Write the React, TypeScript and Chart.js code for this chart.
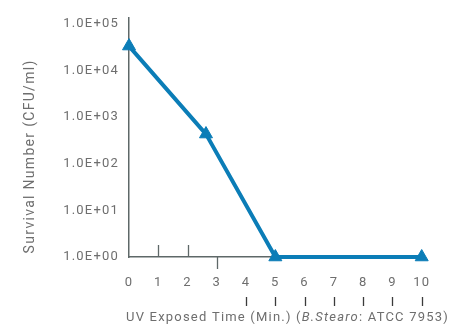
import React, { useEffect, useRef } from "react";
import { Chart, registerables } from "chart.js";

Chart.register(...registerables);

// ---- data ----
const exposedMinutes: number[] = [0, 2.63, 5, 10];
const survivalCounts: number[] = [33000, 430, 1, 1];
const yTickValues: number[] = [1, 10, 100, 1000, 10000, 100000];
const xTickValues: number[] = [0, 1, 2, 3, 4, 5, 6, 7, 8, 9, 10];
const innerUpTicks: number[] = [1, 2];
const innerDownTicks: number[] = [3];
const lowerTicks: number[] = [4, 5, 6, 7, 8, 9, 10];
const yTitle = "Survival Number (CFU/ml)";
const xTitleParts: { text: string; italic: boolean }[] = [
  { text: "UV Exposed Time (Min.) (", italic: false },
  { text: "B.Stearo", italic: true },
  { text: ": ATCC 7953)", italic: false },
];

const BLUE = "#0b7db7";
const AXIS = "#5e6868";
const TEXT = "#6e6e6e";
const FONT = "Roboto";
const SPACING = "1.2px";

function fmtExp(v: number): string {
  const e = Math.round(Math.log10(v));
  const s = e < 0 ? "-" : "+";
  const a = Math.abs(e);
  return "1.0E" + s + (a < 10 ? "0" + a : String(a));
}

const extrasPlugin = {
  id: "extras",
  beforeDraw(chart: any) {
    (chart.ctx as any).letterSpacing = SPACING;
  },
  afterDatasetsDraw(chart: any) {
    const ctx = chart.ctx as CanvasRenderingContext2D;
    const xs = chart.scales.x;
    const area = chart.chartArea;
    const base = area.bottom;
    ctx.save();
    ctx.lineWidth = 1.3;
    ctx.strokeStyle = AXIS;
    innerUpTicks.forEach((v) => {
      const x = Math.round(xs.getPixelForValue(v)) + 0.5;
      ctx.beginPath();
      ctx.moveTo(x, base - 12);
      ctx.lineTo(x, base);
      ctx.stroke();
    });
    innerDownTicks.forEach((v) => {
      const x = Math.round(xs.getPixelForValue(v)) + 0.5;
      ctx.beginPath();
      ctx.moveTo(x, base);
      ctx.lineTo(x, base + 12);
      ctx.stroke();
    });
    ctx.strokeStyle = "#3a3a3a";
    lowerTicks.forEach((v) => {
      const x = Math.round(xs.getPixelForValue(v)) + 0.5;
      ctx.beginPath();
      ctx.moveTo(x, base + 40);
      ctx.lineTo(x, base + 49);
      ctx.stroke();
    });

    // y title
    ctx.fillStyle = TEXT;
    (ctx as any).letterSpacing = "1.3px";
    ctx.font = `14px ${FONT}`;
    ctx.textAlign = "center";
    ctx.textBaseline = "middle";
    ctx.save();
    ctx.translate(30, (area.top + area.bottom) / 2 + 19);
    ctx.rotate(-Math.PI / 2);
    ctx.fillText(yTitle, 0, 0);
    ctx.restore();

    // x title
    (ctx as any).letterSpacing = SPACING;
    const fonts = xTitleParts.map((p) => (p.italic ? `italic 13px ${FONT}` : `13px ${FONT}`));
    let total = 0;
    const widths = xTitleParts.map((p, i) => {
      ctx.font = fonts[i];
      const w = ctx.measureText(p.text).width;
      total += w;
      return w;
    });
    let x = 287.5 - total / 2;
    ctx.textAlign = "left";
    xTitleParts.forEach((p, i) => {
      ctx.font = fonts[i];
      ctx.fillText(p.text, x, 318);
      x += widths[i];
    });
    ctx.restore();
  },
};

export default function App() {
  const ref = useRef<HTMLCanvasElement | null>(null);
  useEffect(() => {
    if (!ref.current) return;
    const chart = new Chart(ref.current, {
      type: "line",
      data: {
        datasets: [
          {
            data: exposedMinutes.map((m, i) => ({ x: m, y: survivalCounts[i] })),
            borderColor: BLUE,
            backgroundColor: BLUE,
            borderWidth: 4,
            pointStyle: "triangle",
            pointRadius: 7.5,
            pointBorderWidth: 1,
            pointBackgroundColor: BLUE,
            pointBorderColor: BLUE,
            clip: false as any,
            tension: 0,
          },
        ],
      },
      options: {
        responsive: false,
        animation: false,
        layout: { padding: { left: 0, right: 43.3, top: 10, bottom: 0 } },
        plugins: { legend: { display: false }, tooltip: { enabled: false } },
        scales: {
          x: {
            type: "linear",
            min: 0,
            max: 10,
            afterFit: (s: any) => {
              s.height = 72;
            },
            afterBuildTicks: (s: any) => {
              s.ticks = xTickValues.map((v) => ({ value: v }));
            },
            grid: { display: false, drawTicks: false },
            border: { display: true, color: AXIS, width: 1.5 },
            ticks: {
              color: TEXT,
              font: { family: FONT, size: 13 },
              padding: 18,
              maxRotation: 0,
              autoSkip: false,
            },
          },
          y: {
            type: "logarithmic",
            min: 1,
            max: 133000,
            afterFit: (s: any) => {
              s.width = 129;
            },
            afterBuildTicks: (s: any) => {
              s.ticks = yTickValues.map((v) => ({ value: v }));
            },
            grid: { display: false, drawTicks: false },
            border: { display: true, color: AXIS, width: 1.5 },
            ticks: {
              color: TEXT,
              font: { family: FONT, size: 13 },
              padding: 10,
              autoSkip: false,
              callback: (v: any) => fmtExp(Number(v)),
            },
          },
        },
      },
      plugins: [extrasPlugin],
    });
    return () => chart.destroy();
  }, []);
  return (
    <div style={{ position: "fixed", left: 0, top: 0, width: 465, height: 329, background: "#fff" }}>
      <canvas ref={ref} width={465} height={329} style={{ width: 465, height: 329, display: "block" }} />
    </div>
  );
}
